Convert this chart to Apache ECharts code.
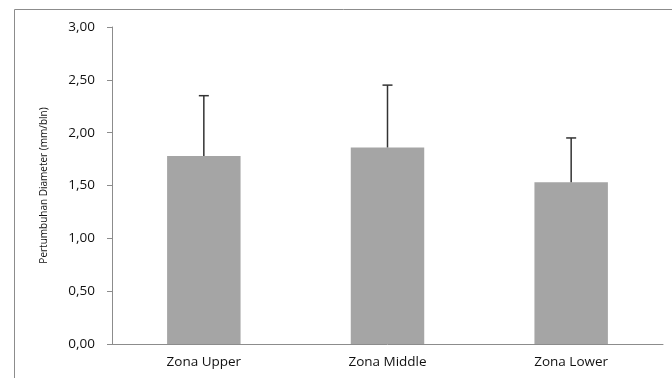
<!DOCTYPE html>
<html>
<head>
<meta charset="utf-8">
<script src="https://cdn.jsdelivr.net/npm/echarts@6/dist/echarts.min.js"></script>
<style>
html,body{margin:0;padding:0;background:#fff;}
#chart{width:672px;height:378px;}
</style>
</head>
<body>
<div id="chart"></div>
<script>
const categories = ['Zona Upper', 'Zona Middle', 'Zona Lower'];
const meanValues = [1.78, 1.86, 1.53];
const errorValues = [0.57, 0.59, 0.42];
const yTicks = [0, 0.5, 1, 1.5, 2, 2.5, 3];
const yAxisName = 'Pertumbuhan Diameter (mm/bln)';

const chart = echarts.init(document.getElementById('chart'));
const errData = categories.map((c, i) => [i, meanValues[i], meanValues[i] + errorValues[i]]);

chart.setOption({
  animation: false,
  graphic: [{
    type: 'rect', left: 12, top: 7, z: -1,
    shape: { width: 700, height: 420 },
    style: { fill: 'none', stroke: '#8c8c8c', lineWidth: 1 }
  }],
  grid: { left: 112, right: 9, top: 27, bottom: 34 },
  xAxis: {
    type: 'category',
    data: categories,
    axisLine: { lineStyle: { color: '#8c8c8c' } },
    axisTick: { show: false },
    axisLabel: { color: '#111', fontFamily: 'Open Sans', fontSize: 13.5, margin: 11 }
  },
  yAxis: {
    type: 'value',
    min: yTicks[0], max: yTicks[yTicks.length - 1], interval: 0.5,
    name: yAxisName,
    nameLocation: 'middle',
    nameGap: 63,
    nameTextStyle: { color: '#111', fontFamily: 'Open Sans', fontSize: 10 },
    axisLine: { show: true, lineStyle: { color: '#8c8c8c' } },
    axisTick: { show: true, length: 5, lineStyle: { color: '#8c8c8c' } },
    splitLine: { show: false },
    axisLabel: {
      color: '#111', fontFamily: 'Open Sans', fontSize: 13.5, margin: 17,
      formatter: v => v.toFixed(2).replace('.', ',')
    }
  },
  series: [{
    type: 'bar',
    data: meanValues,
    barWidth: '40%',
    itemStyle: { color: '#a5a5a5' }
  }, {
    type: 'custom',
    data: errData,
    z: 10,
    renderItem: function (params, api) {
      const x = api.value(0);
      const p0 = api.coord([x, api.value(1)]);
      const p1 = api.coord([x, api.value(2)]);
      const hw = 5;
      const st = { stroke: '#333', lineWidth: 1.5 };
      return {
        type: 'group',
        children: [
          { type: 'line', shape: { x1: p0[0], y1: p0[1], x2: p1[0], y2: p1[1] }, style: st },
          { type: 'line', shape: { x1: p1[0] - hw, y1: p1[1], x2: p1[0] + hw, y2: p1[1] }, style: st }
        ]
      };
    }
  }]
});
</script>
</body>
</html>
